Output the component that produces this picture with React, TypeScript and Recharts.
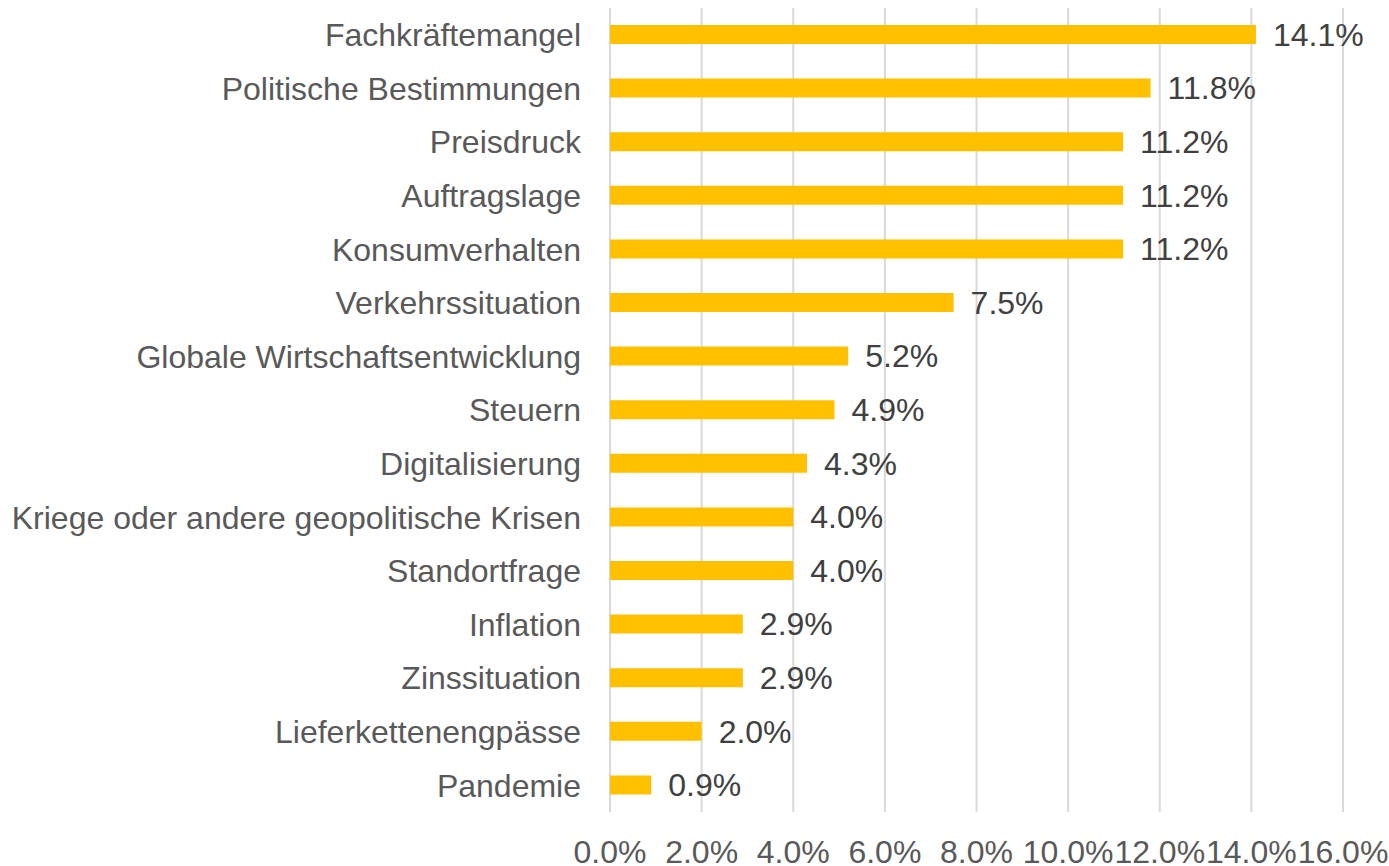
import { BarChart, Bar, XAxis, YAxis, CartesianGrid, LabelList } from 'recharts';

const categories = [
  'Fachkräftemangel',
  'Politische Bestimmungen',
  'Preisdruck',
  'Auftragslage',
  'Konsumverhalten',
  'Verkehrssituation',
  'Globale Wirtschaftsentwicklung',
  'Steuern',
  'Digitalisierung',
  'Kriege oder andere geopolitische Krisen',
  'Standortfrage',
  'Inflation',
  'Zinssituation',
  'Lieferkettenengpässe',
  'Pandemie',
];

const shares = [14.1, 11.8, 11.2, 11.2, 11.2, 7.5, 5.2, 4.9, 4.3, 4.0, 4.0, 2.9, 2.9, 2.0, 0.9];

const xTicks = [0, 2, 4, 6, 8, 10, 12, 14, 16];

const data = categories.map((name, i) => ({ name, value: shares[i] }));

const FONT = '"Liberation Sans", Arial, sans-serif';
const pct = (v: number) => `${Number(v).toFixed(1)}%`;

const App = () => {
  return (
    <div style={{ position: 'fixed', top: 0, left: 0, background: '#fff' }}>
      <BarChart
        width={1389}
        height={866}
        data={data}
        layout="vertical"
        margin={{ top: 8, right: 46, left: 0, bottom: 0 }}
        barSize={19}
        style={{ fontFamily: FONT }}
      >
        <CartesianGrid horizontal={false} stroke="#d9d9d9" strokeWidth={2} />
        <XAxis
          type="number"
          domain={[0, 16]}
          ticks={xTicks}
          tickFormatter={pct}
          axisLine={false}
          tickLine={false}
          tickSize={0}
          tickMargin={28}
          height={54}
          interval={0}
          tick={{ fill: '#595959', fontSize: 32, fontFamily: FONT }}
        />
        <YAxis
          type="category"
          dataKey="name"
          width={610}
          axisLine={false}
          tickLine={false}
          tickSize={0}
          tickMargin={29}
          interval={0}
          tick={{ fill: '#595959', fontSize: 32, fontFamily: FONT }}
        />
        <Bar dataKey="value" fill="#FFC000" isAnimationActive={false}>
          <LabelList
            dataKey="value"
            position="right"
            offset={17}
            formatter={pct}
            style={{ fill: '#404040', fontSize: 32, fontFamily: FONT }}
          />
        </Bar>
      </BarChart>
    </div>
  );
};

export default App;
